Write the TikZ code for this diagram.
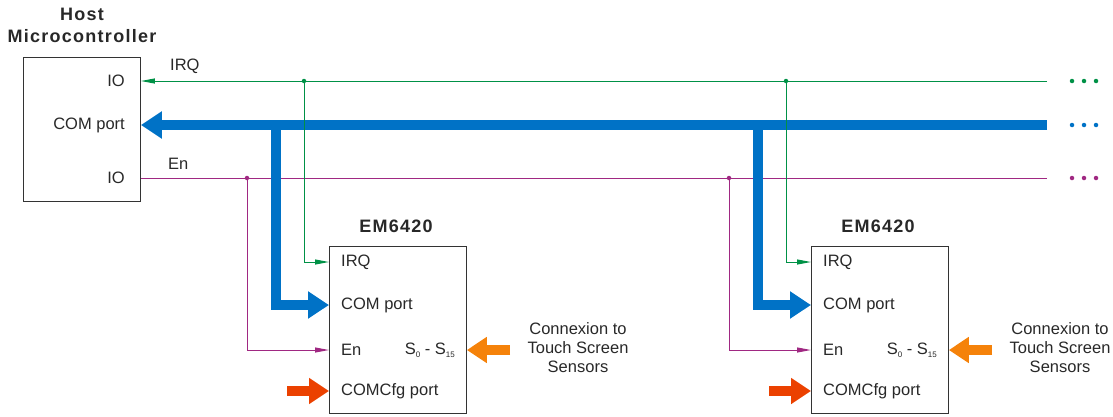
\documentclass[tikz,border=0pt]{standalone}
\usepackage{fontspec}
\setmainfont{Liberation Sans}
\newfontfamily\titlefont[LetterSpace=7]{Liberation Sans}
\usetikzlibrary{positioning}
\usetikzlibrary{arrows.meta}
\usetikzlibrary{calc}

\definecolor{irqgreen}{RGB}{0,145,70}
\definecolor{busblue}{RGB}{0,114,198}
\definecolor{enpurple}{RGB}{160,40,130}
\definecolor{sensorange}{RGB}{245,130,10}
\definecolor{cfgred}{RGB}{235,65,0}
\definecolor{textgray}{RGB}{40,40,40}

\newcommand{\sub}[1]{\raisebox{-3pt}{\fontsize{8}{8}\selectfont #1}}

\tikzset{
    chip/.style={draw=black!80, line width=0.9pt, anchor=north west, inner sep=0pt},
    title/.style={font=\titlefont\bfseries\fontsize{18}{22}\selectfont, align=center},
    port/.style={inner sep=0pt},
    irqline/.style={irqgreen, line width=1pt, -{Triangle[length=14pt,width=5pt]}},
    enline/.style={enpurple, line width=1pt, -{Triangle[length=14pt,width=5pt]}},
    bus/.style={busblue, line width=9.5pt, line join=miter, -{Triangle[length=21pt,width=26pt]}},
    blockarrow/.style={line width=10pt, -{Triangle[length=20pt,width=25pt]}},
    tap/.style={circle, fill, inner sep=0pt, minimum size=4.5pt}
}

\begin{document}
\begin{tikzpicture}[x=1pt, y=-1pt, font=\fontsize{16.5}{19}\selectfont, text=textgray]
    \useasboundingbox (0,0) rectangle (1113,416);

    % Host microcontroller
    \node[title] (hosttitle) at (82,25) {Host\\Microcontroller};
    \node[chip, minimum width=117pt, minimum height=144pt] (host) at (23,57) {};
    \node[port, anchor=east] (hostirq) at (125,81) {IO};
    \node[port, anchor=east] (hostcom) at (125,125) {COM port};
    \node[port, anchor=east] (hosten) at (125,178) {IO};

    % Bus ends on the right
    \coordinate (irqend) at (1047,81);
    \coordinate (comend) at (1047,125);
    \coordinate (enend) at (1047,178);

    \draw[enpurple, line width=1pt] (host.east |- hosten) -- (enend);
    \draw[bus] (comend) -- (host.east |- hostcom);
    \draw[irqline] (irqend) -- (host.east |- hostirq);
    \node[anchor=south west, inner sep=0pt] (irqlabel) at (170,74) {IRQ};
    \node[anchor=south west, inner sep=0pt] (enlabel) at (168,170) {En};

    % Continuation dots
    \foreach \d in {1072,1084,1096} {
        \node[tap, irqgreen] (dotirq\d) at (\d,81) {};
        \node[tap, busblue] (dotcom\d) at (\d,125) {};
        \node[tap, enpurple] (doten\d) at (\d,178) {};
    }

    % Two EM6420 devices
    \foreach \u/\s in {1/0, 2/482} {
        \begin{scope}[shift={(\s,0)}]
            \node[title] (emtitle\u) at (396,226) {EM6420};
            \node[chip, minimum width=137pt, minimum height=167pt] (em\u) at (329,246) {};
            \node[port, anchor=west] (irq\u) at (341,262) {IRQ};
            \node[port, anchor=west] (com\u) at (341,305) {COM port};
            \node[port, anchor=west] (en\u) at (341,350) {En};
            \node[port, anchor=west] (cfg\u) at (341,391) {COMCfg port};
            \node[port, anchor=east] (sens\u) at (455,350) {S\sub{0} - S\sub{15}};
            \node[align=center, inner sep=0pt] (conn\u) at (578,348)
                {Connexion to\\Touch Screen\\Sensors};

            % Taps on the host lines
            \coordinate (entap\u) at (247,178);
            \coordinate (comtap\u) at (276,125);
            \coordinate (irqtap\u) at (304,81);

            \draw[enline] (entap\u) |- (em\u.west |- en\u);
            \node[tap, enpurple] (endot\u) at (entap\u) {};
            \draw[bus] (comtap\u) |- (em\u.west |- com\u);
            \draw[irqline] (irqtap\u) |- (em\u.west |- irq\u);
            \node[tap, irqgreen] (irqdot\u) at (irqtap\u) {};

            % Side inputs
            \coordinate (sensfrom\u) at (510,350);
            \coordinate (cfgfrom\u) at (287,391);
            \draw[blockarrow, sensorange] (sensfrom\u) -- (em\u.east |- sens\u);
            \draw[blockarrow, cfgred] (cfgfrom\u) -- (em\u.west |- cfg\u);
        \end{scope}
    }
\end{tikzpicture}
\end{document}
